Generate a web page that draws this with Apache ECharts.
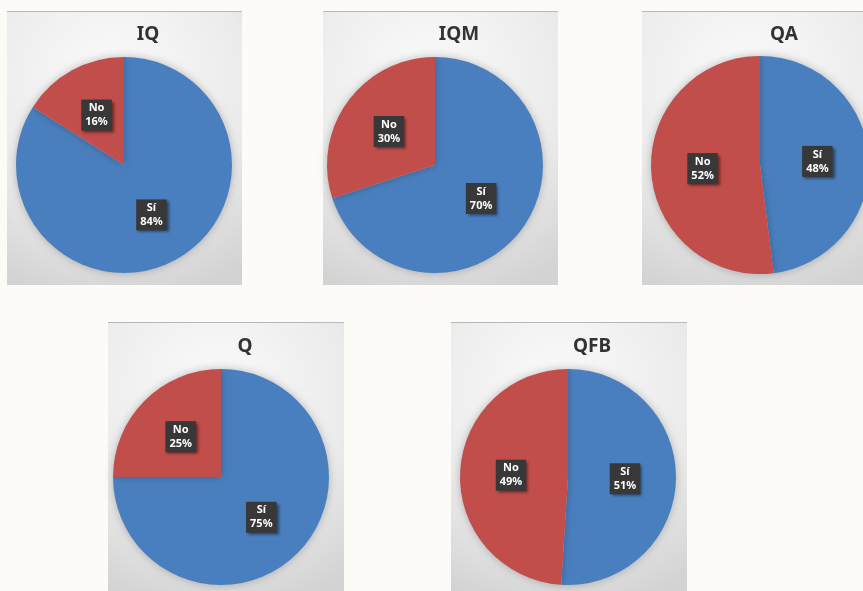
<!DOCTYPE html>
<html>
<head>
<meta charset="utf-8">
<script src="https://cdn.jsdelivr.net/npm/echarts@6/dist/echarts.min.js"></script>
<style>
  html, body { margin: 0; padding: 0; background: #fcfbf7; }
  #chart { width: 863px; height: 591px; }
</style>
</head>
<body>
<div id="chart"></div>
<script>
// Survey answers per group (percent)
const groups = ['IQ', 'IQM', 'QA', 'Q', 'QFB'];
const answerNames = ['Sí', 'No'];
const siValues = [84, 70, 48, 75, 51];
const noValues = [16, 30, 52, 25, 49];

// Panel boxes [x, y, w, h] and pie layout per group
const panels = [
  [7, 11, 235, 274],
  [323, 11, 235, 274],
  [642, 11, 235, 274],
  [108, 322, 236, 274],
  [451, 322, 236, 274]
];
const pieCenters = [[124, 165], [435, 165], [760, 165], [221, 477], [568, 477]];
const pieRadii = [108, 108, 109, 108, 108];

const colors = { si: '#4a7fbf', no: '#c24e4b' };

const chart = echarts.init(document.getElementById('chart'), null, { renderer: 'canvas' });

const graphics = panels.map(p => ({
  type: 'group',
  silent: true,
  children: [
    {
      type: 'rect',
      shape: { x: p[0], y: p[1], width: p[2], height: p[3] },
      style: {
        fill: new echarts.graphic.RadialGradient(0.45, 0.25, 0.95, [
          { offset: 0, color: '#fbfbfb' },
          { offset: 0.6, color: '#ebebeb' },
          { offset: 1, color: '#d3d3d3' }
        ])
      }
    },
    {
      type: 'line',
      shape: { x1: p[0], y1: p[1] + 0.5, x2: p[0] + p[2], y2: p[1] + 0.5 },
      style: { stroke: '#b8b8b8', lineWidth: 1 }
    }
  ]
}));

const titles = groups.map((g, i) => ({
  text: g,
  left: pieCenters[i][0] + 19,
  top: pieCenters[i][1] - 145,
  textAlign: 'center',
  textStyle: {
    fontFamily: '"Noto Sans", Lato, sans-serif',
    fontWeight: 'bold',
    fontSize: 19,
    color: '#333333'
  }
}));

const series = groups.map((g, i) => ({
  type: 'pie',
  name: g,
  center: pieCenters[i],
  radius: [0, pieRadii[i]],
  startAngle: 90,
  clockwise: true,
  silent: true,
  animation: false,
  itemStyle: {
    borderWidth: 0,
    shadowBlur: 8,
    shadowColor: 'rgba(0,0,0,0.25)'
  },
  label: {
    show: true,
    position: 'inside',
    formatter: '{b}\n{c}%',
    color: '#ffffff',
    fontFamily: '"Noto Sans", "DejaVu Sans", sans-serif',
    fontWeight: 'bold',
    fontSize: 11,
    lineHeight: 14,
    align: 'center',
    backgroundColor: '#383838',
    padding: [2, 4, 1, 4],
    shadowColor: 'rgba(0,0,0,0.5)',
    shadowBlur: 3,
    shadowOffsetX: 2,
    shadowOffsetY: 2
  },
  labelLine: { show: false },
  data: [
    { name: answerNames[0], value: siValues[i], itemStyle: { color: colors.si } },
    { name: answerNames[1], value: noValues[i], itemStyle: { color: colors.no } }
  ]
}));

chart.setOption({
  backgroundColor: '#fcfbf7',
  animation: false,
  graphic: graphics,
  title: titles,
  series: series
});
</script>
</body>
</html>
